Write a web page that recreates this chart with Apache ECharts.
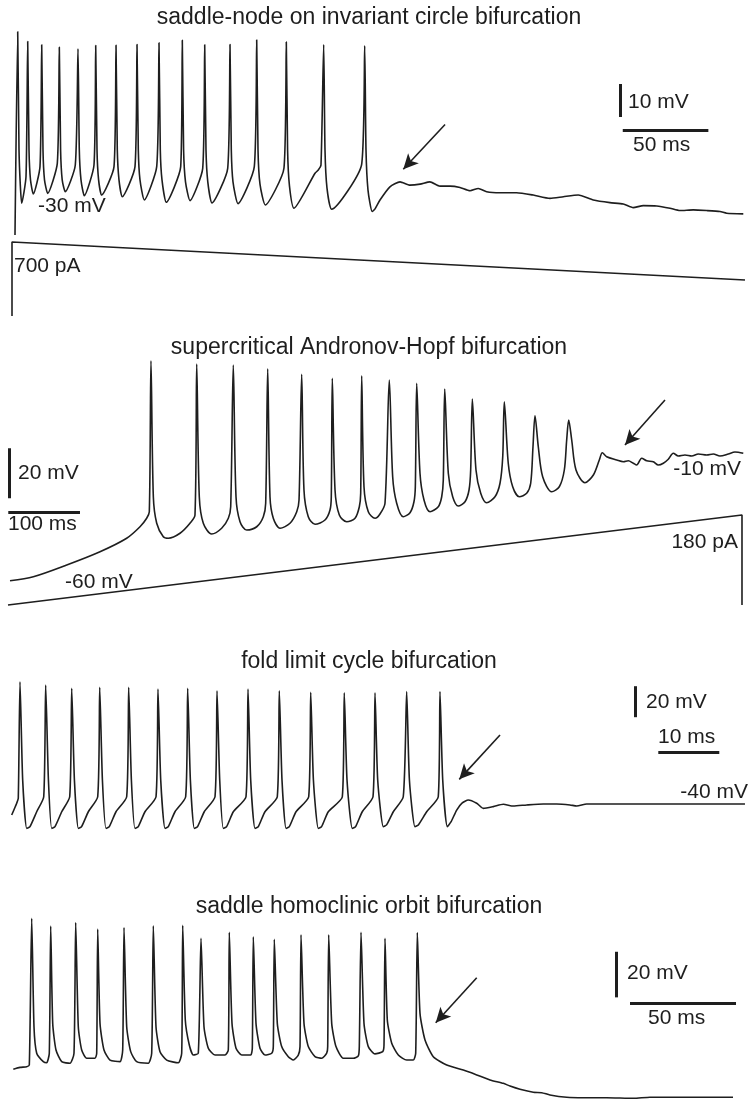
<!DOCTYPE html>
<html>
<head>
<meta charset="utf-8">
<script src="https://cdn.jsdelivr.net/npm/echarts@6/dist/echarts.min.js"></script>
<style>
  html, body { margin: 0; padding: 0; background: #fff; }
  #chart { width: 750px; height: 1099px; }
</style>
</head>
<body>
<div id="chart"></div>
<script>
// ---------- Recorded traces (time in ms, membrane potential in mV, current in pA) ----------

// Saddle-node on invariant circle: decreasing current ramp, spiking stops, potential settles
const snicTime = [
  0, 1.58, 2.34, 3.10, 3.91,
  6.43, 7.42, 8.18, 9.05, 10.69,
  14.60, 15.60, 16.35, 17.23, 19.10,
  24.71, 25.88, 26.63, 27.57, 29.38,
  35.22, 36.80, 37.56, 38.55, 40.48,
  46.14, 47.14, 47.90, 48.83, 50.64,
  57.83, 59.00, 59.75, 60.74, 62.67,
  70.09, 71.26, 72.02, 73.01, 75.52,
  82.77, 84.11, 84.87, 85.86, 88.37,
  96.79, 97.72, 98.48, 99.59, 102.22,
  109.64, 110.81, 111.56, 112.61, 115.07,
  124.24, 125.58, 126.34, 127.33, 130.25,
  139.78, 141.18, 141.94, 143.10, 146.20,
  157.12, 158.47, 159.22, 160.33, 162.96,
  175.23, 177.16, 178.73, 180.31, 181.07, 182.24, 184.98,
  202.51, 204.26, 205.02, 206.19, 208.64,
  210.3, 213.2, 219.0, 224.9, 230.7, 236.6, 242.4, 248.2, 254.1, 259.9,
  265.8, 270.6, 275.5, 283.3, 293.0, 302.7, 312.5, 320.3, 329.0, 337.8,
  347.5, 355.3, 361.1, 367.0, 374.8, 382.6, 388.4, 396.2, 404.0, 411.8,
  415.7, 425.4
];
const snicVolt = [
  -40.6, 21.0, -14.8, -25.5, -31.0,
  -22.9, 18.0, -14.8, -23.9, -28.2,
  -19.9, 17.0, -14.8, -23.9, -28.0,
  -18.9, 16.3, -14.8, -23.9, -27.5,
  -19.4, 15.8, -14.8, -23.9, -28.7,
  -19.4, 16.8, -14.8, -23.9, -28.5,
  -19.9, 16.9, -14.8, -23.9, -29.0,
  -19.9, 17.1, -14.8, -23.9, -30.0,
  -19.9, 17.6, -14.8, -23.9, -30.7,
  -19.9, 18.4, -14.8, -24.5, -30.2,
  -20.4, 17.0, -14.8, -24.5, -30.9,
  -20.4, 17.1, -14.8, -24.5, -31.1,
  -19.9, 18.5, -14.8, -25.2, -31.5,
  -20.3, 17.9, -14.8, -25.8, -32.5,
  -21.9, -20.9, -19.4, 17.1, -14.8, -26.4, -32.8,
  -19.1, 16.7, -14.8, -27.0, -33.5,
  -32.7, -30.0, -26.0, -24.5, -25.5, -25.2, -24.5, -25.8, -25.8, -26.2,
  -27.2, -26.5, -27.5, -27.8, -27.8, -28.5, -29.5, -29.0, -28.5, -30.0,
  -30.8, -31.2, -32.3, -31.7, -31.8, -32.5, -33.2, -33.0, -33.2, -33.5,
  -34.0, -34.2
];
const snicRampTime = [-1.75, -1.75, 426.4];
const snicRampPA = [0, 700, 340];

// Supercritical Andronov-Hopf: increasing ramp, oscillations shrink into a steady depolarised state
const hopfTime = [
  2.8, 35.3, 81.9, 128.3, 165.5, 184.1, 193.4, 197.1,
  199.4, 202.7, 207.4, 216.6, 223.6, 239.9, 253.8, 260.8,
  263.2, 266.8, 272.4, 284.1, 298.0, 307.3, 310.6,
  314.2, 318.0, 323.6, 332.9, 346.9, 356.1, 359.4,
  362.2, 365.4, 370.0, 379.4, 393.3, 402.7, 405.9,
  409.6, 412.8, 418.8, 428.2, 442.1, 449.1, 450.9,
  452.3, 456.1, 462.1, 472.4, 484.0, 490.0, 491.9,
  493.3, 496.5, 502.5, 511.9, 518.8, 525.8,
  531.8, 536.5, 542.1, 551.3, 560.7, 566.2, 568.1,
  570.0, 574.6, 580.2, 588.6, 600.1, 604.9, 607.1,
  609.1, 614.1, 620.2, 628.0, 637.4, 643.0, 645.3,
  647.6, 652.7, 659.3, 667.6, 679.2, 686.2, 690.0,
  692.2, 697.7, 703.9, 713.1, 723.4, 729.0, 732.2,
  735.0, 739.6, 745.7, 758.3, 768.9, 775.9, 779.2,
  782.0, 786.2, 792.2, 804.7, 816.4, 824.7,
  828.9, 835.0, 849.0, 858.2, 865.1, 872.1, 876.8, 883.8, 890.8, 900.0,
  907.0, 914.0, 920.9, 927.9, 934.9, 944.2, 953.6, 962.8, 974.5, 983.7,
  993.0, 1004.6, 1013.9, 1025.5
];
const hopfVolt = [
  -60.3, -58.7, -54.0, -48.7, -43.3, -38.7, -35.3, -32.7,
  27.7, -26.7, -37.3, -42.7, -43.3, -41.3, -37.3, -34.0,
  26.4, -26.7, -37.3, -41.6, -39.3, -35.3, -30.7,
  26.0, -26.7, -36.7, -40.0, -38.7, -34.7, -29.3,
  24.5, -26.7, -35.3, -39.3, -37.3, -32.7, -28.0,
  22.3, -24.0, -34.7, -37.7, -36.0, -32.0, -26.7,
  20.7, -24.0, -34.0, -36.7, -35.3, -30.7, -25.3,
  21.7, -22.7, -32.7, -35.3, -33.6, -29.3,
  20.0, -18.7, -29.3, -34.7, -33.1, -28.7, -22.7,
  18.7, -17.3, -28.0, -32.7, -30.7, -26.7, -20.0,
  16.4, -17.3, -26.7, -30.4, -28.7, -24.0, -16.0,
  12.4, -16.0, -25.3, -29.1, -26.7, -21.3, -10.7,
  11.3, -13.3, -22.7, -26.7, -25.3, -21.3, -6.7,
  5.7, -6.7, -18.7, -24.7, -22.7, -16.0, -4.0,
  4.0, -4.0, -16.0, -21.1, -18.0, -12.0,
  -9.1, -10.7, -12.0, -12.7, -12.3, -13.3, -14.0, -11.3, -12.3, -12.7,
  -14.0, -13.3, -11.7, -9.3, -10.4, -10.0, -10.4, -9.6, -10.0, -9.6,
  -10.4, -9.6, -8.8, -9.3
];
const hopfRampTime = [0, 1023.7, 1023.7];
const hopfRampPA = [0, 180, 0];

// Fold limit cycle: regular spiking ends abruptly, damped oscillation to rest
const foldTime = [
  0, 0.82, 1.08, 1.36, 1.80, 2.46, 3.00, 4.10,
  5.25, 5.57, 6.02, 6.56, 7.10, 8.20,
  9.51, 9.84, 10.28, 10.92, 11.46, 12.56,
  14.10, 14.43, 14.87, 15.46, 16.00, 17.10,
  18.85, 19.18, 19.62, 20.21, 20.75, 21.85,
  23.66, 23.98, 24.43, 25.13, 25.67, 26.77,
  28.52, 28.85, 29.29, 29.93, 30.47, 31.57,
  33.33, 33.66, 34.10, 34.69, 35.23, 36.33,
  38.41, 38.74, 39.18, 39.88, 40.43, 41.52,
  43.54, 43.87, 44.31, 44.97, 45.51, 46.61,
  48.69, 49.02, 49.46, 50.26, 50.80, 51.90,
  54.20, 54.52, 54.97, 55.83, 56.38, 57.47,
  59.23, 59.56, 60.00, 60.92, 61.46, 62.56,
  64.19, 64.75, 65.20, 66.11, 66.66, 68.03,
  69.93, 70.21, 70.66, 71.41, 72.01, 72.95, 73.82, 74.85,
  76.23, 77.31, 78.95, 80.59, 82.23, 84.43, 87.15, 89.34, 91.52, 92.62,
  94.26, 96.98, 102.46, 107.92, 113.37, 120.21
];
const foldVolt = [
  -47.1, -39.5, -36.3, 38.9, -24.5, -55.7, -54.6, -45.0,
  -35.3, 36.8, -24.5, -55.7, -54.6, -45.0,
  -35.3, 34.6, -24.5, -55.7, -54.6, -45.0,
  -35.3, 35.3, -24.5, -55.7, -54.6, -45.0,
  -35.3, 35.3, -24.5, -55.7, -54.6, -45.0,
  -35.3, 34.2, -24.5, -55.7, -54.6, -45.0,
  -35.3, 34.6, -24.5, -55.7, -54.6, -45.0,
  -35.3, 33.1, -24.5, -55.7, -54.6, -45.0,
  -35.3, 34.2, -24.5, -55.7, -54.6, -45.0,
  -35.3, 33.1, -24.5, -55.7, -54.6, -45.0,
  -35.3, 32.1, -24.5, -55.7, -54.6, -45.0,
  -35.3, 31.8, -24.5, -55.7, -54.6, -45.0,
  -35.3, 31.8, -24.5, -54.6, -53.5, -45.0,
  -35.3, 32.5, -24.5, -54.6, -53.5, -45.0,
  -35.3, 32.5, -24.5, -54.6, -51.6, -43.9, -39.4, -37.4,
  -39.5, -42.8, -41.7, -40.2, -41.3, -40.6, -40.0, -40.0, -40.6, -41.3,
  -40.0, -40.0, -40.0, -40.0, -40.0, -40.0
];

// Saddle homoclinic orbit: spiking stops with a slow decay after the last spike
const homTime = [
  0, 3.16, 6.32, 7.55, 8.68, 9.76, 11.04, 14.15, 15.75,
  16.98, 17.64, 18.59, 20.14, 22.83, 26.75,
  28.63, 29.43, 30.66, 32.26, 34.62, 38.54,
  39.34, 39.81, 40.90, 42.78, 45.61, 50.33,
  51.60, 52.22, 53.49, 55.38, 58.21, 63.68,
  65.28, 66.04, 67.31, 69.20, 72.36, 77.83,
  79.43, 79.91, 81.13, 83.02, 84.91,
  87.26, 88.54, 89.95, 91.98, 95.14, 99.86,
  101.42, 101.89, 103.16, 105.05, 107.74, 111.98,
  112.74, 113.21, 114.48, 116.37, 118.73, 121.89,
  122.64, 123.11, 124.53, 126.60, 129.72, 132.08, 134.43,
  135.24, 135.71, 137.12, 139.15, 142.31, 145.47, 147.83,
  148.30, 148.77, 150.19, 152.21, 155.66, 160.38, 162.74,
  163.21, 164.01, 165.42, 167.45, 170.61, 174.24,
  174.86, 175.33, 176.42, 178.50, 181.61, 185.57, 188.68,
  189.81, 190.57, 191.84, 194.20, 198.11, 204.43, 212.27, 218.59, 224.86,
  231.13, 234.29, 239.01, 245.28, 249.24, 253.12, 261.04, 268.87, 279.91,
  292.46, 300.33, 311.32, 323.91, 339.48
];
const homVolt = [
  -61.4, -60.6, -60.3, -59.6, 4.8, -42.8, -54.4, -58.1, -58.6,
  -54.4, 1.4, -41.3, -53.0, -58.1, -58.8,
  -54.4, 2.9, -42.8, -53.0, -56.6, -56.6,
  -54.4, 0.1, -41.3, -53.0, -57.4, -58.1,
  -53.0, 0.7, -42.8, -53.7, -58.1, -58.8,
  -54.4, 1.5, -42.8, -53.7, -57.4, -58.6,
  -54.4, 1.7, -39.8, -50.8, -55.2,
  -54.4, -4.0, -42.8, -52.2, -55.2, -55.2,
  -53.0, -1.4, -41.3, -52.2, -55.2, -55.2,
  -52.2, -3.3, -41.3, -52.2, -55.2, -54.4,
  -51.5, -4.4, -41.3, -51.5, -55.9, -57.4, -55.2,
  -51.5, -2.5, -41.3, -51.5, -55.9, -56.6, -54.4,
  -51.5, -2.5, -41.3, -51.5, -56.6, -56.6, -55.6,
  -51.5, -1.4, -41.3, -51.5, -54.7, -53.7,
  -50.8, -4.0, -39.8, -50.0, -55.2, -57.4, -57.4,
  -54.4, -1.5, -36.9, -48.6, -55.9, -59.6, -61.8, -63.9, -66.1,
  -67.6, -68.8, -70.2, -71.5, -71.7, -72.7, -73.7, -73.9, -73.9,
  -74.2, -73.7, -73.7, -73.7, -73.7
];

// ---------- Layout ----------
const W = 750;
const INK = '#1e1e1e';
const FONT = '"Liberation Sans", Arial, Helvetica, sans-serif';

// Each panel: vertical band on the page, and the drawing scale of its recording
// (px per ms, px per mV, px per pA) anchored at a reference pixel.
const panels = [
  { top: 0,   bottom: 330,  x0: 15,   sx: 1.712, yRef: 200,  vRef: -30, sy: 3.3,  iRef: 316, si: 0.1057 },
  { top: 330, bottom: 625,  x0: 8,    sx: 0.717, yRef: 580,  vRef: -60, sy: 2.5,  iRef: 605, si: 0.5 },
  { top: 640, bottom: 860,  x0: 11.7, sx: 6.1,   yRef: 804,  vRef: -40, sy: 1.55 },
  { top: 875, bottom: 1099, x0: 13.3, sx: 2.12,  yRef: 1066, vRef: -60, sy: 2.28 }
];

const zip = (a, b) => a.map((v, i) => [v, b[i]]);

const grid = [], xAxis = [], yAxis = [];
const voltAxis = [], currAxis = [];
panels.forEach((p, i) => {
  grid.push({ left: 0, top: p.top, width: W, height: p.bottom - p.top });
  xAxis.push({ type: 'value', gridIndex: i, show: false,
    min: -p.x0 / p.sx, max: (W - p.x0) / p.sx });
  voltAxis.push(yAxis.length);
  yAxis.push({ type: 'value', gridIndex: i, show: false,
    min: p.vRef - (p.bottom - p.yRef) / p.sy,
    max: p.vRef + (p.yRef - p.top) / p.sy });
  if (p.si) {
    currAxis.push(yAxis.length);
    yAxis.push({ type: 'value', gridIndex: i, show: false,
      min: -(p.bottom - p.iRef) / p.si,
      max: (p.iRef - p.top) / p.si });
  } else {
    currAxis.push(null);
  }
});

// Scale bars (vertical: mV, horizontal: ms) and arrows, in each panel's data units
function bars(vb, hb, arrow) {
  return {
    silent: true,
    animation: false,
    symbol: ['none', 'none'],
    label: { show: false },
    emphasis: { disabled: true },
    lineStyle: { color: INK, width: 3, type: 'solid' },
    data: [
      [{ coord: [vb.t, vb.v] }, { coord: [vb.t, vb.v + vb.dv] }],
      [{ coord: [hb.t, hb.v] }, { coord: [hb.t + hb.dt, hb.v] }],
      [{ coord: arrow[0], symbol: 'none', lineStyle: { width: 1.6, color: INK } },
       { coord: arrow[1], symbol: 'arrow', symbolSize: [11, 15] }]
    ]
  };
}

function trace(i, t, v, smooth, markLine) {
  return {
    type: 'line', xAxisIndex: i, yAxisIndex: voltAxis[i],
    data: zip(t, v), showSymbol: false, symbol: 'none', clip: false,
    smooth,
    silent: true, animation: false,
    lineStyle: { color: INK, width: 1.6, join: 'round' },
    markLine
  };
}
function ramp(i, t, pa) {
  return {
    type: 'line', xAxisIndex: i, yAxisIndex: currAxis[i],
    data: zip(t, pa), showSymbol: false, symbol: 'none', clip: false,
    silent: true, animation: false,
    lineStyle: { color: INK, width: 1.6 }
  };
}

const series = [
  trace(0, snicTime, snicVolt, 0.2, bars(
    { t: 353.4, v: -4.85, dv: 10 }, { t: 355.0, v: -8.8, dt: 50 },
    [[251.2, -7.1], [226.8, -20.7]])),
  ramp(0, snicRampTime, snicRampPA),
  trace(1, hopfTime, hopfVolt, 0.3, bars(
    { t: 1.4, v: -27.3, dv: 20 }, { t: 0.4, v: -32.7, dt: 100 },
    [[916.3, 12.0], [860.5, -6.0]])),
  ramp(1, hopfRampTime, hopfRampPA),
  trace(2, foldTime, foldVolt, 0.2, bars(
    { t: 102.18, v: 16.0, dv: 20 }, { t: 106.0, v: -6.9, dt: 10 },
    [[80.05, 4.5], [73.37, -24.1]])),
  trace(3, homTime, homVolt, 0.2, bars(
    { t: 284.62, v: -29.9, dv: 20 }, { t: 290.9, v: -32.5, dt: 50 },
    [[218.6, -21.3], [199.25, -41.0]]))
];

// Titles and annotation text
const texts = [
  ['saddle-node on invariant circle bifurcation', 369, 18, 23, 'center'],
  ['-30 mV', 38, 206, 21, 'left'],
  ['10 mV', 628, 102, 21, 'left'],
  ['50 ms', 633, 145, 21, 'left'],
  ['700 pA', 14, 266, 21, 'left'],
  ['supercritical Andronov-Hopf bifurcation', 369, 348, 23, 'center'],
  ['20 mV', 18, 473, 21, 'left'],
  ['100 ms', 8, 524, 21, 'left'],
  ['-60 mV', 65, 582, 21, 'left'],
  ['-10 mV', 741, 469, 21, 'right'],
  ['180 pA', 738, 542, 21, 'right'],
  ['fold limit cycle bifurcation', 369, 662, 23, 'center'],
  ['20 mV', 646, 702, 21, 'left'],
  ['10 ms', 658, 737, 21, 'left'],
  ['-40 mV', 748, 792, 21, 'right'],
  ['saddle homoclinic orbit bifurcation', 369, 907, 23, 'center'],
  ['20 mV', 627, 973, 21, 'left'],
  ['50 ms', 648, 1018, 21, 'left']
];
const graphic = texts.map(([text, x, y, size, align]) => ({
  type: 'text', x, y, silent: true,
  style: {
    text, fill: INK, font: size + 'px ' + FONT,
    align, verticalAlign: 'middle',
    textAlign: align, textVerticalAlign: 'middle'
  }
}));

const chart = echarts.init(document.getElementById('chart'), null, { renderer: 'canvas' });
chart.setOption({
  backgroundColor: '#ffffff',
  animation: false,
  grid, xAxis, yAxis, series, graphic
});
</script>
</body>
</html>
